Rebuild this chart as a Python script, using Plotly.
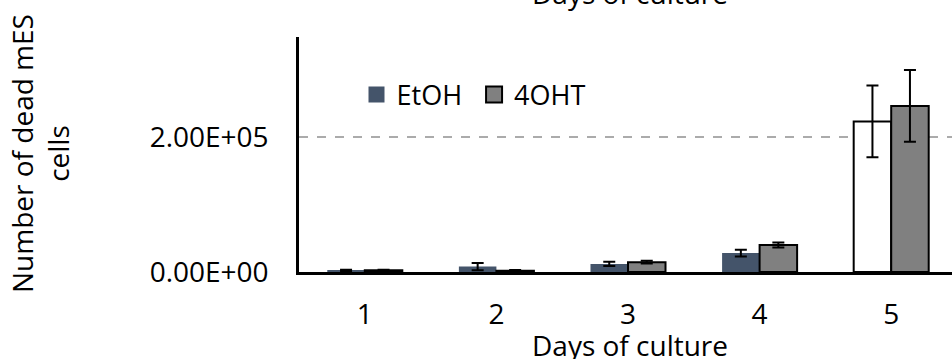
import plotly.graph_objects as go

days = ["1", "2", "3", "4", "5"]
etoh = [2000, 8000, 12000, 28000, 223000]
etoh_err = [1500, 5500, 3000, 5000, 53000]
ohT = [2500, 2000, 14500, 40000, 246000]
ohT_err = [1000, 1000, 2000, 3700, 53000]
y_ticks = [0, 200000]
y_tick_text = ["0.00E+00", "2.00E+05"]

FONT = "Open Sans"
FS = 28

etoh_fill = ["#44546A", "#44546A", "#44546A", "#44546A", "#FFFFFF"]
etoh_lw = [0, 0, 0, 0, 2]

fig = go.Figure()
fig.add_trace(go.Bar(
    x=days, y=etoh, name="EtOH", showlegend=False,
    marker=dict(color=etoh_fill, line=dict(color="black", width=etoh_lw)),
    error_y=dict(type="data", array=etoh_err, visible=True, color="black", thickness=2, width=6),
))
fig.add_trace(go.Bar(
    x=days, y=ohT, name="4OHT", showlegend=False,
    marker=dict(color="#808080", line=dict(color="black", width=2)),
    error_y=dict(type="data", array=ohT_err, visible=True, color="black", thickness=2, width=6),
))
# legend entries
fig.add_trace(go.Scatter(x=[None], y=[None], mode="markers", name="EtOH\u00a0",
                         marker=dict(symbol="square", size=16, color="#44546A", line=dict(width=0))))
fig.add_trace(go.Scatter(x=[None], y=[None], mode="markers", name="4OHT",
                         marker=dict(symbol="square", size=16, color="#808080", line=dict(color="black", width=2))))

L, R, T, B = 299, 0, 37, 87
W, H = 952, 359
pw = W - L - R
ph = H - T - B

def px_x(p):
    return (p - L) / pw

def px_y(p):
    return (H - B - p) / ph

fig.update_layout(
    width=W, height=H,
    margin=dict(l=L, r=R, t=T, b=B, pad=0),
    paper_bgcolor="white", plot_bgcolor="white",
    font=dict(family=FONT, size=FS, color="black"),
    barmode="group", bargap=0.43, bargroupgap=0,
    showlegend=True,
    legend=dict(orientation="h", x=px_x(356.5), y=px_y(95), xanchor="left", yanchor="middle",
                font=dict(family=FONT, size=27), bgcolor="rgba(0,0,0,0)",
                itemwidth=30, tracegroupgap=0),
    xaxis=dict(type="category", range=[-0.5, 4.462], showline=True, linecolor="black", linewidth=2.5,
               showgrid=False, zeroline=False, ticks="outside", ticklen=16, tickcolor="rgba(0,0,0,0)",
               tickfont=dict(family=FONT, size=FS)),
    yaxis=dict(range=[0, 348000], tickvals=y_ticks, ticktext=y_tick_text, showline=True,
               linecolor="black", linewidth=2.5, showgrid=True, gridcolor="#ABABAB", gridwidth=2,
               griddash="dash", zeroline=False, ticks="outside", ticklen=22,
               tickcolor="rgba(0,0,0,0)", tickfont=dict(family=FONT, size=FS)),
    annotations=[
        dict(text="Days of culture", xref="paper", yref="paper", x=px_x(630), y=px_y(345),
             xanchor="center", yanchor="middle", showarrow=False, font=dict(family=FONT, size=FS)),
        dict(text="Days of culture", xref="paper", yref="paper", x=px_x(630), y=px_y(14),
             xanchor="center", yanchor="bottom", showarrow=False, font=dict(family=FONT, size=FS)),
        dict(text="Number of dead mES<br>cells", xref="paper", yref="paper", x=px_x(40), y=px_y(154),
             xanchor="center", yanchor="middle", showarrow=False, textangle=-90,
             font=dict(family=FONT, size=FS)),
    ],
)
fig.write_html("out.html", config={"displayModeBar": False},
               post_script="document.body.style.margin='0px';")
